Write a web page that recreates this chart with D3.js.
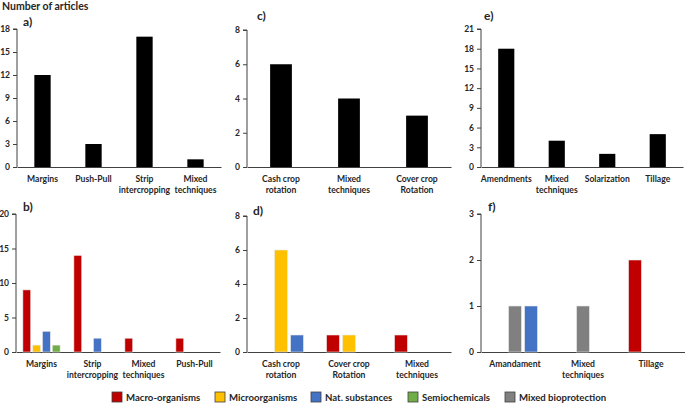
<!DOCTYPE html>
<html>
<head>
<meta charset="utf-8">
<script src="https://cdn.jsdelivr.net/npm/d3@7"></script>
<style>
  body { margin: 0; background: #fff; }
  svg { font-family: Lato, "Open Sans", sans-serif; font-weight: bold; }
</style>
</head>
<body>
<svg id="chart" width="685" height="404"></svg>
<script>
// panel a) - total articles per technique
const catsA = ["Margins", "Push-Pull", "Strip\nintercropping", "Mixed\ntechniques"];
const valsA = [12, 3, 17, 1];
// panel c)
const catsC = ["Cash crop\nrotation", "Mixed\ntechniques", "Cover crop\nRotation"];
const valsC = [6, 4, 3];
// panel e)
const catsE = ["Amendments", "Mixed\ntechniques", "Solarization", "Tillage"];
const valsE = [18, 4, 2, 5];

// panel b) - grouped by biocontrol type
const catsB = ["Margins", "Strip\nintercropping", "Mixed\ntechniques", "Push-Pull"];
const seriesB = ["Macro-organisms", "Microorganisms", "Nat. substances", "Semiochemicals"];
const macroB = [9, 14, 2, 2];
const microB = [1, 0, 0, 0];
const natB = [3, 2, 0, 0];
const semioB = [1, 0, 0, 0];
// panel d)
const catsD = ["Cash crop\nrotation", "Cover crop\nRotation", "Mixed\ntechniques"];
const seriesD = ["Macro-organisms", "Microorganisms", "Nat. substances"];
const macroD = [0, 1, 1];
const microD = [6, 1, 0];
const natD = [1, 0, 0];
// panel f)
const catsF = ["Amandament", "Mixed\ntechniques", "Tillage"];
const seriesF = ["Macro-organisms", "Mixed bioprotection", "Nat. substances"];
const macroF = [0, 0, 2];
const mixedF = [1, 1, 0];
const natF = [1, 0, 0];

const legendItems = ["Macro-organisms", "Microorganisms", "Nat. substances", "Semiochemicals", "Mixed bioprotection"];
const colors = {
    "Macro-organisms": "#C00000",
    "Microorganisms": "#FFC000",
    "Nat. substances": "#4472C4",
    "Semiochemicals": "#70AD47",
    "Mixed bioprotection": "#808080"
};

const svg = d3.select("#chart");
const txt = "#262626";

function panel(o) {
    const g = svg.append("g");
    const x = d3.scaleBand().domain(o.cats).range([o.x0, o.x1]);
    const y = d3.scaleLinear().domain([0, o.max]).range([o.y0, o.yTop]);

    // y axis
    const ya = g.append("g").attr("transform", `translate(${o.x0},0)`)
        .call(d3.axisLeft(y).tickValues(o.ticks).tickFormat(d3.format("d")).tickSize(4).tickPadding(3));
    ya.select(".domain").attr("stroke", "#404040").attr("d", `M-4,${y(o.max)}H0V${o.y0}`);
    ya.selectAll(".tick line").attr("stroke", "#404040");
    ya.selectAll(".tick text").attr("fill", txt).style("font-size", "8.5px").style("font-family", "Lato, sans-serif").style("font-weight", "bold");

    // x axis line
    const xa = g.append("g").attr("transform", `translate(0,${o.y0})`)
        .call(d3.axisBottom(x).tickSize(0).tickFormat(""));
    xa.select(".domain").attr("stroke", "#404040");

    // category labels
    o.cats.forEach(c => {
        const t = g.append("text").attr("x", x(c) + x.bandwidth() / 2).attr("y", o.y0 + 15)
            .attr("text-anchor", "middle").attr("fill", txt).style("font-size", "8.6px");
        c.split("\n").forEach((line, i) => t.append("tspan").attr("x", x(c) + x.bandwidth() / 2).attr("dy", i ? 11 : 0).text(line));
    });

    // bars
    if (o.vals) {
        const w = x.bandwidth() * 0.32;
        g.selectAll(".bar").data(o.vals).join("rect")
            .attr("x", (d, i) => x(o.cats[i]) + (x.bandwidth() - w) / 2)
            .attr("y", d => y(d)).attr("width", w).attr("height", d => y(0) - y(d))
            .attr("fill", "#000");
    } else {
        const gw = x.bandwidth() * o.group;
        const x1 = d3.scaleBand().domain(o.series).range([-gw / 2, gw / 2]).paddingInner(0.2);
        o.series.forEach((s, si) => {
            const vals = o.data[si];
            g.selectAll(null).data(vals.map((v, i) => ({ v, c: o.cats[i] })).filter(d => d.v > 0)).join("rect")
                .attr("x", d => x(d.c) + x.bandwidth() / 2 + x1(s))
                .attr("y", d => y(d.v)).attr("width", x1.bandwidth()).attr("height", d => y(0) - y(d.v))
                .attr("fill", colors[s]).attr("stroke", "#e8e8e8").attr("stroke-width", 0.6);
        });
    }

    g.append("text").attr("x", o.lx).attr("y", o.ly).attr("fill", txt).style("font-size", "12px").text(o.label);
}

panel({ cats: catsA, vals: valsA, max: 18, ticks: d3.range(0, 19, 3), x0: 17, x1: 221, y0: 167, yTop: 29, label: "a)", lx: 23, ly: 26 });
panel({ cats: catsC, vals: valsC, max: 8, ticks: d3.range(0, 9, 2), x0: 247, x1: 451, y0: 167, yTop: 30, label: "c)", lx: 257, ly: 20 });
panel({ cats: catsE, vals: valsE, max: 21, ticks: d3.range(0, 22, 3), x0: 481, x1: 683, y0: 167, yTop: 29, label: "e)", lx: 484, ly: 20 });

panel({ cats: catsB, series: seriesB, data: [macroB, microB, natB, semioB], group: 0.73, max: 20, ticks: d3.range(0, 21, 5), x0: 16, x1: 220, y0: 352, yTop: 214, label: "b)", lx: 23, ly: 211 });
panel({ cats: catsD, series: seriesD, data: [macroD, microD, natD], group: 0.66, max: 8, ticks: d3.range(0, 9, 2), x0: 247, x1: 451, y0: 352, yTop: 216, label: "d)", lx: 253, ly: 215 });
panel({ cats: catsF, series: seriesF, data: [macroF, mixedF, natF], group: 0.66, max: 3, ticks: d3.range(0, 4, 1), x0: 481, x1: 685, y0: 352, yTop: 214, label: "f)", lx: 488, ly: 211 });

// title
svg.append("text").attr("x", 2).attr("y", 10).attr("fill", txt).style("font-size", "10.5px").text("Number of articles");

// legend
const legX = [112, 215, 311, 408, 505];
const leg = svg.append("g");
legendItems.forEach((s, i) => {
    leg.append("rect").attr("x", legX[i]).attr("y", 392).attr("width", 10).attr("height", 10)
        .attr("fill", colors[s]).attr("stroke", "#404040").attr("stroke-width", 0.8);
    leg.append("text").attr("x", legX[i] + 14).attr("y", 401).attr("fill", txt).style("font-size", "9.6px").text(s);
});
</script>
</body>
</html>
